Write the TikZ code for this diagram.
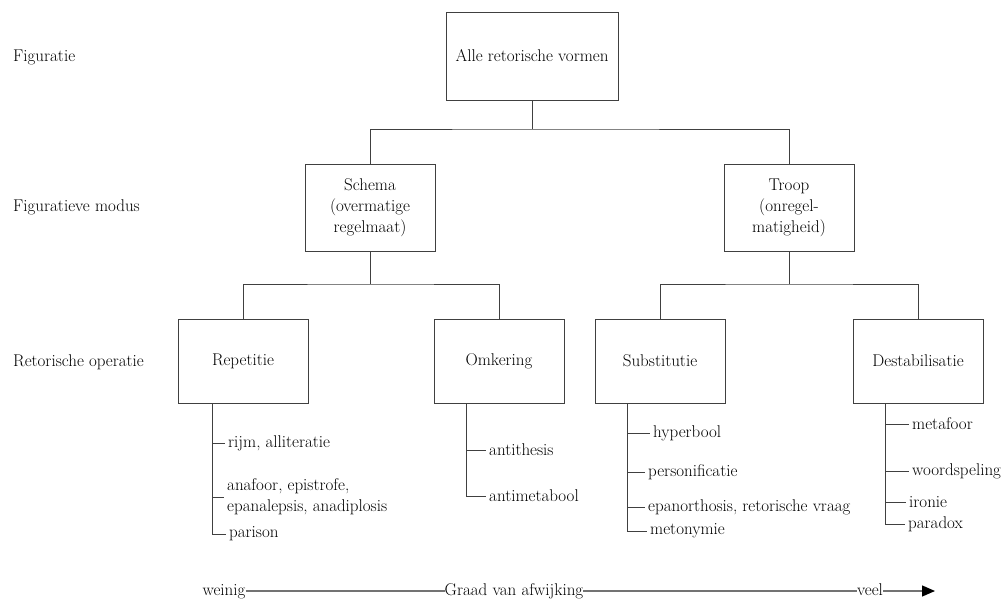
\documentclass[tikz,border=0pt]{standalone}
\usepackage{tikz}
\usetikzlibrary{positioning,calc,arrows.meta}
\usepackage{xcolor}

\begin{document}
\begin{tikzpicture}[x=1pt,y=-1pt,
  font=\fontsize{17}{21}\selectfont,
  box/.style={draw=black!75,line width=0.9pt,align=center,
    minimum width=130pt,minimum height=84pt,inner sep=2pt},
  level/.style={anchor=west,inner sep=0pt},
  item/.style={anchor=west,inner sep=3pt,align=left},
  link/.style={draw=black!75,line width=0.9pt},
  axis/.style={draw=black!55,line width=1.3pt},
  axislabel/.style={inner sep=0pt,text height=11pt,text depth=3pt}]
  \useasboundingbox (0,0) rectangle (1007,599);

  \node[level] (fig) at (13,57) {Figuratie};
  \node[level] (mod) at (13,207) {Figuratieve modus};
  \node[level] (ops) at (13,362) {Retorische operatie};

  \node[box,minimum width=172pt,minimum height=88pt] (alle) at (532,56)
   {Alle retorische vormen};
  \node[box,minimum height=87pt] (schema) at (370,207.5)
   {Schema\\(overmatige\\regelmaat)};
  \node[box,minimum height=87pt] (troop) at (789,207.5)
   {Troop\\(onregel-\\matigheid)};
  \node[box] (rep) at (243,361) {Repetitie};
  \node[box] (omk) at (499,361) {Omkering};
  \node[box] (sub) at (660,361) {Substitutie};
  \node[box] (des) at (918,361) {Destabilisatie};

  \coordinate (j0) at (532,129);
  \coordinate (j1) at (370,284);
  \coordinate (j2) at (789,284);
  \draw[link] (alle.south) -- (j0);
  \draw[link] (schema.north) |- (j0) -| (troop.north);
  \draw[link] (schema.south) -- (j1);
  \draw[link] (rep.north) |- (j1) -| (omk.north);
  \draw[link] (troop.south) -- (j2);
  \draw[link] (sub.north) |- (j2) -| (des.north);

  \coordinate (repx) at ([xshift=-31pt]rep.south);
  \node[item] (r1) at (225,443) {rijm, alliteratie};
  \node[item] (r2) at (224,497) {anafoor, epistrofe,\\epanalepsis, anadiplosis};
  \node[item] (r3) at (226,534) {parison};
  \draw[link] (repx) |- (r3.west);
  \foreach \i in {r1,r2}
    \draw[link] (repx |- \i.west) -- (\i.west);

  \coordinate (omkx) at ([xshift=-33pt]omk.south);
  \node[item] (o1) at (486,450) {antithesis};
  \node[item] (o2) at (486,496) {antimetabool};
  \draw[link] (omkx) |- (o2.west);
  \draw[link] (omkx |- o1.west) -- (o1.west);

  \coordinate (subx) at ([xshift=-33pt]sub.south);
  \node[item] (s1) at (650,433) {hyperbool};
  \node[item] (s2) at (645,472) {personificatie};
  \node[item] (s3) at (645,507) {epanorthosis, retorische vraag};
  \node[item] (s4) at (647,531) {metonymie};
  \draw[link] (subx) |- (s4.west);
  \foreach \i in {s1,s2,s3}
    \draw[link] (subx |- \i.west) -- (\i.west);

  \coordinate (desx) at ([xshift=-33pt]des.south);
  \node[item] (d1) at (909,424) {metafoor};
  \node[item] (d2) at (909,471) {woordspeling};
  \node[item] (d3) at (906,502) {ironie};
  \node[item] (d4) at (905,524) {paradox};
  \draw[link] (desx) |- (d4.west);
  \foreach \i in {d1,d2,d3}
    \draw[link] (desx |- \i.west) -- (\i.west);

  \node[axislabel] (weinig) at (224,591) {weinig};
  \node[axislabel] (graad) at (514,591) {Graad van afwijking};
  \node[axislabel] (veel) at (870,591) {veel};
  \coordinate (tip) at (935,591);
  \draw[axis] (weinig) -- (graad);
  \draw[axis] (graad) -- (veel);
  \draw[axis,-{Triangle[length=13pt,width=11pt,color=black]}] (veel) -- (tip);
\end{tikzpicture}
\end{document}
